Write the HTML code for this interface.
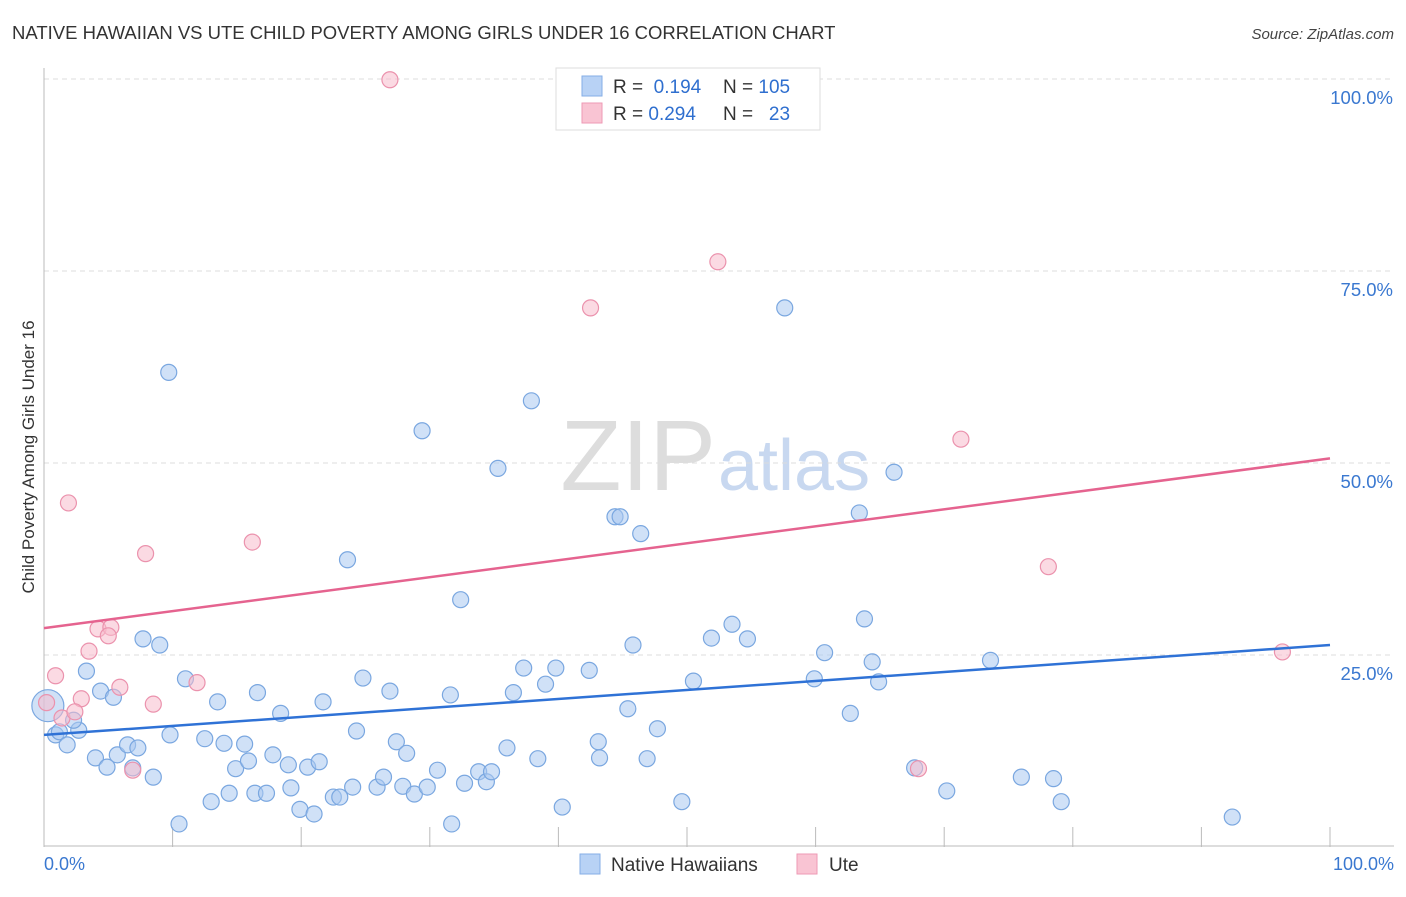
<!DOCTYPE html>
<html><head><meta charset="utf-8"><style>
body{margin:0;background:#fff;font-family:"Liberation Sans",sans-serif;}
svg text{font-family:"Liberation Sans",sans-serif;}
</style></head><body>
<svg id="c" width="1406" height="892" xmlns="http://www.w3.org/2000/svg">
<text x="12" y="39" font-size="18.5" fill="#333">NATIVE HAWAIIAN VS UTE CHILD POVERTY AMONG GIRLS UNDER 16 CORRELATION CHART</text>
<text x="1394" y="39" font-size="15" fill="#444" font-style="italic" text-anchor="end">Source: ZipAtlas.com</text>
<text x="716" y="490" font-size="100" fill="#ddd" text-anchor="end" font-family="Liberation Serif">ZIP</text>
<text x="718" y="490" font-size="72" fill="#c8d8f0">atlas</text>
<g id="grid"></g>
<g id="marks"></g>
<text transform="translate(34,457) rotate(-90)" font-size="17" fill="#333" text-anchor="middle">Child Poverty Among Girls Under 16</text>
<text x="44" y="870" font-size="18" fill="#3a78d0">0.0%</text>
<text x="1394" y="870" font-size="18" fill="#3a78d0" text-anchor="end">100.0%</text>
<g>
<rect x="556" y="68" width="264" height="62" fill="#fff" stroke="#ddd"/>
<rect x="582" y="76" width="20" height="20" fill="#b8d2f5" stroke="#85aee6"/>
<rect x="582" y="103" width="20" height="20" fill="#f9c4d3" stroke="#ee9ab4"/>
<text x="613" y="93" font-size="19" fill="#333">R = <tspan fill="#2f6fcf">&#160;0.194</tspan></text>
<text x="723" y="93" font-size="19" fill="#333">N = <tspan fill="#2f6fcf">105</tspan></text>
<text x="613" y="120" font-size="19" fill="#333">R = <tspan fill="#2f6fcf">0.294</tspan></text>
<text x="723" y="120" font-size="19" fill="#333">N = <tspan fill="#2f6fcf">&#160;&#160;23</tspan></text>
</g>
<g>
<rect x="580" y="854" width="20" height="20" fill="#b8d2f5" stroke="#85aee6"/>
<text x="611" y="871" font-size="19" fill="#333">Native Hawaiians</text>
<rect x="797" y="854" width="20" height="20" fill="#f9c4d3" stroke="#ee9ab4"/>
<text x="829" y="871" font-size="19" fill="#333">Ute</text>
</g>
</svg>
<script>
const blueX=[0.3,0.9,1.2,1.8,2.7,2.3,3.3,4.0,4.4,4.9,5.4,5.7,6.5,6.9,7.3,7.7,8.5,9.0,9.7,9.8,10.5,11.0,12.5,13.0,13.5,14.0,14.4,14.9,15.6,15.9,16.4,16.6,17.3,17.8,18.4,19.0,19.2,19.9,20.5,21.0,21.4,21.7,22.5,23.0,23.6,24.0,24.3,24.8,25.9,26.4,26.9,27.4,27.9,28.2,28.8,29.4,29.8,30.6,31.6,31.7,32.4,32.7,33.8,34.4,34.8,35.3,36.0,36.5,37.3,37.9,38.4,39.0,39.8,40.3,42.4,43.1,43.2,44.4,44.8,45.4,45.8,46.4,46.9,47.7,49.6,50.5,51.9,53.5,54.7,57.6,59.9,60.7,62.7,63.4,63.8,64.4,64.9,66.1,67.7,70.2,73.6,76.0,78.5,79.1,92.4];
const blueY=[18.4,14.6,15.0,13.3,15.2,16.5,22.9,11.6,20.3,10.4,19.5,12.0,13.3,10.3,12.9,27.1,9.1,26.3,61.8,14.6,3.0,21.9,14.1,5.9,18.9,13.5,7.0,10.2,13.4,11.2,7.0,20.1,7.0,12.0,17.4,10.7,7.7,4.9,10.4,4.3,11.1,18.9,6.5,6.5,37.4,7.8,15.1,22.0,7.8,9.1,20.3,13.7,7.9,12.2,6.9,54.2,7.8,10.0,19.8,3.0,32.2,8.3,9.8,8.5,9.8,49.3,12.9,20.1,23.3,58.1,11.5,21.2,23.3,5.2,23.0,13.7,11.6,43.0,43.0,18.0,26.3,40.8,11.5,15.4,5.9,21.6,27.2,29.0,27.1,70.2,21.9,25.3,17.4,43.5,29.7,24.1,21.5,48.8,10.3,7.3,24.3,9.1,8.9,5.9,3.9];
const pinkX=[26.9,52.4,42.5,71.3,1.9,7.9,16.2,78.1,4.2,5.2,5.0,3.5,0.9,5.9,11.9,2.9,8.5,0.2,1.4,2.4,6.9,68.0,96.3];
const pinkY=[99.9,76.2,70.2,53.1,44.8,38.2,39.7,36.5,28.4,28.6,27.5,25.5,22.3,20.8,21.4,19.3,18.6,18.8,16.8,17.6,10.0,10.2,25.4];
const blueTrend=[14.6,26.3];
const pinkTrend=[28.5,50.6];
const yTicks=[25,50,75,100];
const yTickLabels=["25.0%","50.0%","75.0%","100.0%"];
const xTicks=[0,10,20,30,40,50,60,70,80,90,100];
const NS="http://www.w3.org/2000/svg";
const sx=v=>44+v*12.86, sy=v=>847-v*7.68;
function mk(t,a,p){const e=document.createElementNS(NS,t);for(const k in a)e.setAttribute(k,a[k]);p.appendChild(e);return e;}
const g=document.getElementById('grid'),m=document.getElementById('marks');
yTicks.forEach((t,i)=>{
 const l=mk('line',{x1:44,x2:1394,y1:sy(t),y2:sy(t),stroke:'#ddd','stroke-dasharray':'5,4'},g);
 
 
 const tx=mk('text',{x:1393,y:sy(t)+25,'font-size':18.5,fill:'#3a78d0','text-anchor':'end'},g);
 tx.textContent=yTickLabels[i];
 
 
});
const ax=mk('line',{x1:44,x2:44,y1:68,y2:847,stroke:'#bbb'},g);


const bx=mk('line',{x1:44,x2:1394,y1:846,y2:846,stroke:'#bbb'},g);


xTicks.forEach(t=>{
 const l=mk('line',{x1:sx(t),x2:sx(t),y1:827,y2:847,stroke:'#bbb'},g);
 
 
});
function pts(X,Y,fill,stroke,name){
 X.forEach((x,i)=>{
  const c=mk('circle',{cx:sx(x),cy:sy(Y[i]),r:(name==='blue-point'&&i===0)?16:8,fill:fill,'fill-opacity':0.55,stroke:stroke,'stroke-width':1.2},m);
  
  
 });
}
pts(blueX,blueY,'#a9c8f0','#7aa7e0','blue-point');
pts(pinkX,pinkY,'#f7bccc','#eb92ad','pink-point');
const bl=mk('line',{x1:sx(0),y1:sy(blueTrend[0]),x2:sx(100),y2:sy(blueTrend[1]),stroke:'#2f72d6','stroke-width':2.5},m);


const pl=mk('line',{x1:sx(0),y1:sy(pinkTrend[0]),x2:sx(100),y2:sy(pinkTrend[1]),stroke:'#e5638f','stroke-width':2.5},m);


</script>
</body></html>
